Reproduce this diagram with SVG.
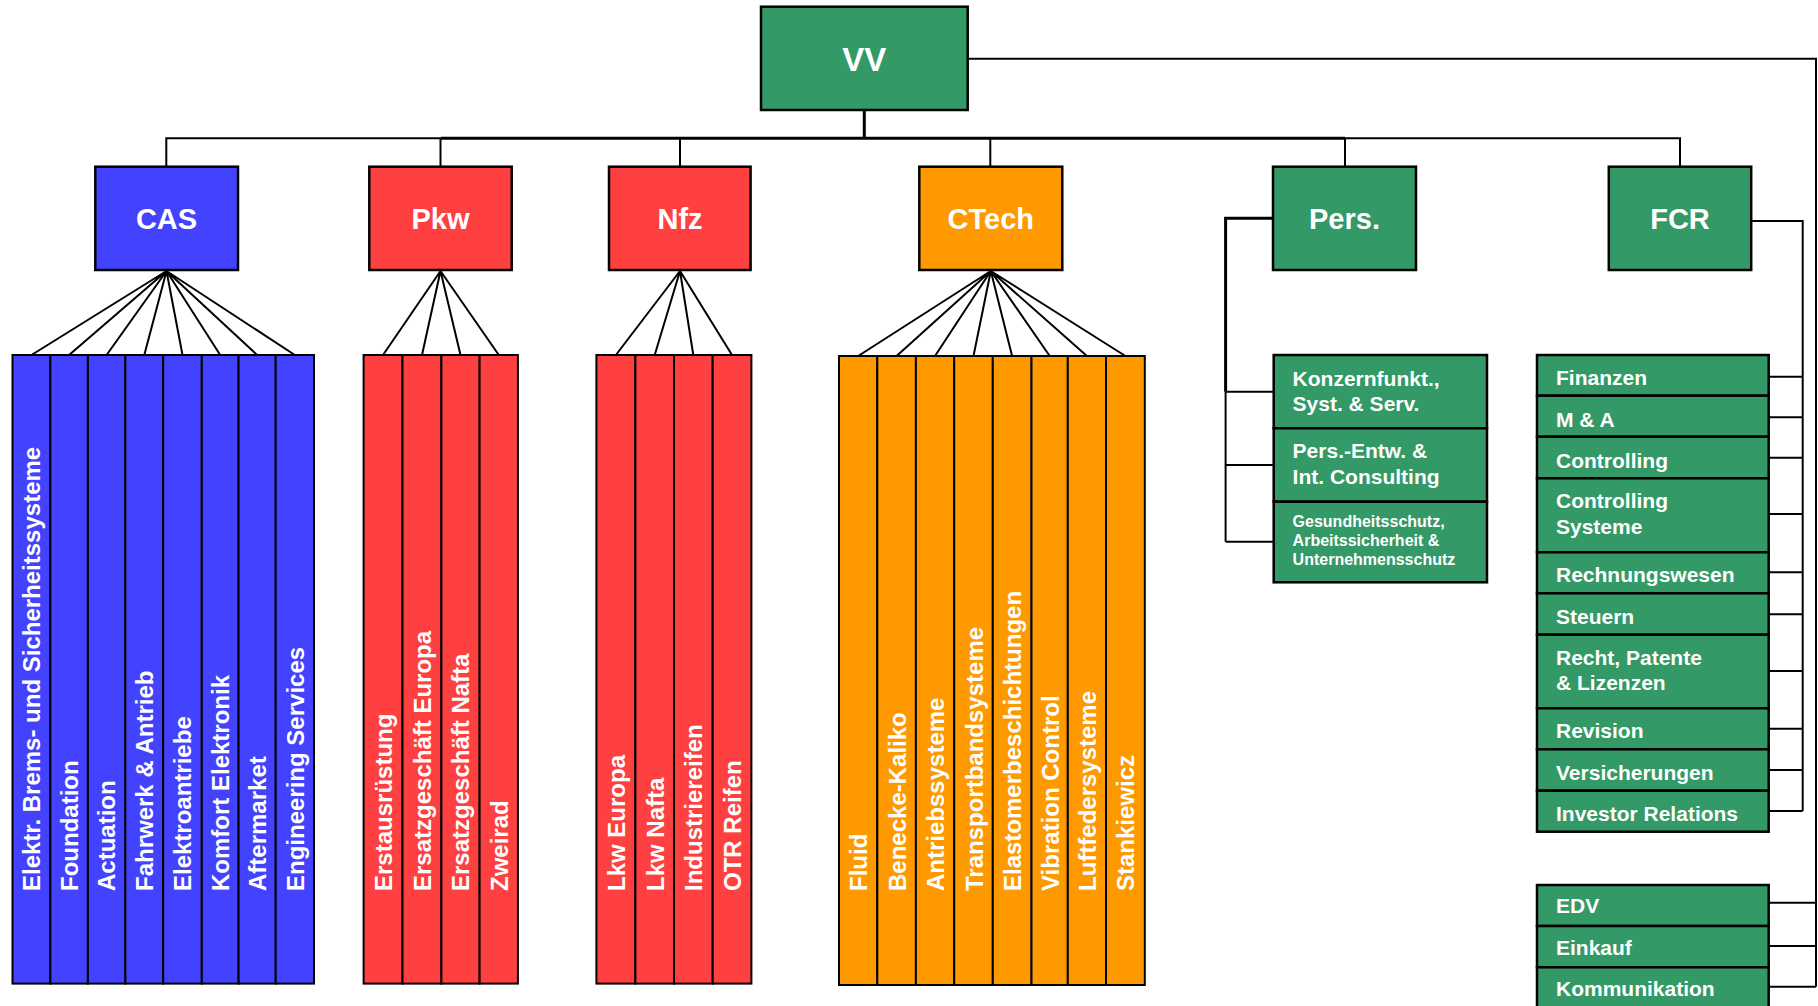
<svg xmlns="http://www.w3.org/2000/svg" width="1818" height="1006" viewBox="0 0 1818 1006">
<style>
  .box { stroke: #000; stroke-width: 2.5; }
  .col { stroke: #000; stroke-width: 2; }
  .g { fill: #339966; }
  .b { fill: #4343FF; }
  .r { fill: #FF4040; }
  .o { fill: #FF9900; }
  text { font-family: "Liberation Sans", Arial, sans-serif; font-weight: bold; fill: #fff; }
  .title { font-size: 29px; text-anchor: middle; }
  .vt { font-size: 24px; }
  .lt { font-size: 21px; }
  .st { font-size: 16px; }
  .conn { fill: none; stroke: #000; stroke-width: 2; }
  .thick { fill: none; stroke: #000; stroke-width: 3; }
</style>
<rect width="1818" height="1006" fill="#fff"/>

<g id="connectors">
  <path class="thick" d="M864.3 110 V138.3"/>
  <path class="conn" d="M166.3 166.7 V138.3 H440.5"/>
  <path class="thick" d="M440.5 138.3 H1345"/>
  <path class="conn" d="M1345 138.3 H1680 V166.7"/>
  <path class="conn" d="M440.5 138.3 V166.7 M680 138.3 V166.7 M990.3 138.3 V166.7 M1345 138.3 V166.7"/>
  <path class="conn" d="M967.7 58.7 H1816 V986.7"/>
  <path class="conn" d="M1768.7 902.7 H1816 M1768.7 946 H1816 M1768.7 986.7 H1816"/>
  <path class="thick" d="M1273 218.3 H1225.6 V391.7"/>
  <path class="conn" d="M1225.6 391.7 V541.7"/>
  <path class="conn" d="M1225.6 391.7 H1273.7 M1225.6 465 H1273.7 M1225.6 541.7 H1273.7"/>
  <path class="conn" d="M1751.2 221 H1802.7 V811"/>
  <path class="conn" d="M1768.7 376.7 H1802.7 M1768.7 417.3 H1802.7 M1768.7 457.7 H1802.7 M1768.7 514 H1802.7 M1768.7 572.3 H1802.7 M1768.7 614.3 H1802.7 M1768.7 671 H1802.7 M1768.7 728.7 H1802.7 M1768.7 770 H1802.7 M1768.7 811 H1802.7"/>
  <path class="conn" d="M166.5 271 L31.5 355 M166.5 271 L69.1 355 M166.5 271 L106.6 355 M166.5 271 L144.3 355 M166.5 271 L182.5 355 M166.5 271 L220.2 355 M166.5 271 L257.1 355 M166.5 271 L294.8 355"/>
  <path class="conn" d="M440.5 271 L383 355 M440.5 271 L422 355 M440.5 271 L460.5 355 M440.5 271 L498.8 355"/>
  <path class="conn" d="M680 271 L615.9 355 M680 271 L654.7 355 M680 271 L693.3 355 M680 271 L732 355"/>
  <path class="conn" d="M990.8 271 L858.2 356 M990.8 271 L896.6 356 M990.8 271 L935 356 M990.8 271 L973.5 356 M990.8 271 L1012.1 356 M990.8 271 L1049.7 356 M990.8 271 L1086.9 356 M990.8 271 L1125.4 356"/>
</g>

<g id="vv">
  <rect class="box g" x="761" y="6.7" width="206.7" height="103.3"/>
  <text class="title" x="864.3" y="71" style="font-size:33px">VV</text>
</g>
<g id="cas">
  <rect class="box b" x="95.3" y="166.7" width="142.7" height="103.3"/>
  <text class="title" x="166.5" y="229">CAS</text>
</g>
<g id="pkw">
  <rect class="box r" x="369.3" y="166.7" width="142.4" height="103.3"/>
  <text class="title" x="440.5" y="229">Pkw</text>
</g>
<g id="nfz">
  <rect class="box r" x="609" y="166.7" width="141.6" height="103.3"/>
  <text class="title" x="680" y="229">Nfz</text>
</g>
<g id="ctech">
  <rect class="box o" x="919.3" y="166.7" width="143" height="103.3"/>
  <text class="title" x="990.8" y="229">CTech</text>
</g>
<g id="pers">
  <rect class="box g" x="1273" y="166.7" width="143" height="103.3"/>
  <text class="title" x="1344.5" y="229">Pers.</text>
</g>
<g id="fcr">
  <rect class="box g" x="1608.8" y="166.7" width="142.4" height="103.3"/>
  <text class="title" x="1680" y="229">FCR</text>
</g>

<g id="cas-units">
  <rect class="col b" x="12.5" y="355" width="37.9" height="628.6"/>
  <rect class="col b" x="50.4" y="355" width="37.5" height="628.6"/>
  <rect class="col b" x="87.9" y="355" width="37.5" height="628.6"/>
  <rect class="col b" x="125.4" y="355" width="37.8" height="628.6"/>
  <rect class="col b" x="163.2" y="355" width="38.6" height="628.6"/>
  <rect class="col b" x="201.8" y="355" width="36.8" height="628.6"/>
  <rect class="col b" x="238.6" y="355" width="37.1" height="628.6"/>
  <rect class="col b" x="275.7" y="355" width="38.3" height="628.6"/>
  <text class="vt" transform="translate(40.3 891) rotate(-90)">Elektr. Brems- und Sicherheitssysteme</text>
  <text class="vt" transform="translate(77.9 891) rotate(-90)">Foundation</text>
  <text class="vt" transform="translate(115.4 891) rotate(-90)">Actuation</text>
  <text class="vt" transform="translate(153.1 891) rotate(-90)">Fahrwerk &amp; Antrieb</text>
  <text class="vt" transform="translate(191.3 891) rotate(-90)">Elektroantriebe</text>
  <text class="vt" transform="translate(229 891) rotate(-90)">Komfort Elektronik</text>
  <text class="vt" transform="translate(265.9 891) rotate(-90)">Aftermarket</text>
  <text class="vt" transform="translate(303.6 891) rotate(-90)">Engineering Services</text>
</g>

<g id="pkw-units">
  <rect class="col r" x="363.6" y="355" width="38.9" height="628.6"/>
  <rect class="col r" x="402.5" y="355" width="38.9" height="628.6"/>
  <rect class="col r" x="441.4" y="355" width="38.2" height="628.6"/>
  <rect class="col r" x="479.6" y="355" width="38.3" height="628.6"/>
  <text class="vt" transform="translate(391.8 891) rotate(-90)">Erstausrüstung</text>
  <text class="vt" transform="translate(430.8 891) rotate(-90)">Ersatzgeschäft Europa</text>
  <text class="vt" transform="translate(469.3 891) rotate(-90)">Ersatzgeschäft Nafta</text>
  <text class="vt" transform="translate(507.6 891) rotate(-90)">Zweirad</text>
</g>

<g id="nfz-units">
  <rect class="col r" x="596.4" y="355" width="39" height="628.6"/>
  <rect class="col r" x="635.4" y="355" width="38.6" height="628.6"/>
  <rect class="col r" x="674" y="355" width="38.7" height="628.6"/>
  <rect class="col r" x="712.7" y="355" width="38.7" height="628.6"/>
  <text class="vt" transform="translate(624.7 891) rotate(-90)">Lkw Europa</text>
  <text class="vt" transform="translate(663.5 891) rotate(-90)">Lkw Nafta</text>
  <text class="vt" transform="translate(702.1 891) rotate(-90)">Industriereifen</text>
  <text class="vt" transform="translate(740.8 891) rotate(-90)">OTR Reifen</text>
</g>

<g id="ctech-units">
  <rect class="col o" x="839" y="356" width="38.3" height="629"/>
  <rect class="col o" x="877.3" y="356" width="38.6" height="629"/>
  <rect class="col o" x="915.9" y="356" width="38.3" height="629"/>
  <rect class="col o" x="954.2" y="356" width="38.6" height="629"/>
  <rect class="col o" x="992.8" y="356" width="38.7" height="629"/>
  <rect class="col o" x="1031.5" y="356" width="36.3" height="629"/>
  <rect class="col o" x="1067.8" y="356" width="38.2" height="629"/>
  <rect class="col o" x="1106" y="356" width="38.8" height="629"/>
  <text class="vt" transform="translate(867.2 891) rotate(-90)">Fluid</text>
  <text class="vt" transform="translate(905.6 891) rotate(-90)">Benecke-Kaliko</text>
  <text class="vt" transform="translate(944 891) rotate(-90)">Antriebssysteme</text>
  <text class="vt" transform="translate(982.5 891) rotate(-90)">Transportbandsysteme</text>
  <text class="vt" transform="translate(1021.1 891) rotate(-90)">Elastomerbeschichtungen</text>
  <text class="vt" transform="translate(1058.7 891) rotate(-90)">Vibration Control</text>
  <text class="vt" transform="translate(1095.9 891) rotate(-90)">Luftfedersysteme</text>
  <text class="vt" transform="translate(1134.4 891) rotate(-90)">Stankiewicz</text>
</g>

<g id="pers-units">
  <rect class="box g" x="1273.7" y="355" width="213.3" height="73.3"/>
  <rect class="box g" x="1273.7" y="428.3" width="213.3" height="73.4"/>
  <rect class="box g" x="1273.7" y="501.7" width="213.3" height="80.6"/>
  <text class="lt" x="1292.6" y="385.7">Konzernfunkt.,</text>
  <text class="lt" x="1292.6" y="411">Syst. &amp; Serv.</text>
  <text class="lt" x="1292.6" y="458.3">Pers.-Entw. &amp;</text>
  <text class="lt" x="1292.6" y="484.3">Int. Consulting</text>
  <text class="st" x="1292.6" y="527.3">Gesundheitsschutz,</text>
  <text class="st" x="1292.6" y="546">Arbeitssicherheit &amp;</text>
  <text class="st" x="1292.6" y="565">Unternehmensschutz</text>
</g>

<g id="fcr-units">
  <rect class="box g" x="1537" y="355" width="231.7" height="40.7"/>
  <rect class="box g" x="1537" y="395.7" width="231.7" height="41"/>
  <rect class="box g" x="1537" y="436.7" width="231.7" height="41.6"/>
  <rect class="box g" x="1537" y="478.3" width="231.7" height="74"/>
  <rect class="box g" x="1537" y="552.3" width="231.7" height="41"/>
  <rect class="box g" x="1537" y="593.3" width="231.7" height="41.4"/>
  <rect class="box g" x="1537" y="634.7" width="231.7" height="73.6"/>
  <rect class="box g" x="1537" y="708.3" width="231.7" height="41"/>
  <rect class="box g" x="1537" y="749.3" width="231.7" height="41.4"/>
  <rect class="box g" x="1537" y="790.7" width="231.7" height="41"/>
  <text class="lt" x="1556" y="385">Finanzen</text>
  <text class="lt" x="1556" y="426.7">M &amp; A</text>
  <text class="lt" x="1556" y="467.7">Controlling</text>
  <text class="lt" x="1556" y="508.3">Controlling</text>
  <text class="lt" x="1556" y="534">Systeme</text>
  <text class="lt" x="1556" y="582.3">Rechnungswesen</text>
  <text class="lt" x="1556" y="624">Steuern</text>
  <text class="lt" x="1556" y="665">Recht, Patente</text>
  <text class="lt" x="1556" y="690">&amp; Lizenzen</text>
  <text class="lt" x="1556" y="738.3">Revision</text>
  <text class="lt" x="1556" y="780">Versicherungen</text>
  <text class="lt" x="1556" y="820.7">Investor Relations</text>
</g>

<g id="vv-units">
  <rect class="box g" x="1537" y="885" width="231.7" height="41"/>
  <rect class="box g" x="1537" y="926" width="231.7" height="41.3"/>
  <rect class="box g" x="1537" y="967.3" width="231.7" height="42"/>
  <text class="lt" x="1556" y="912.7">EDV</text>
  <text class="lt" x="1556" y="955">Einkauf</text>
  <text class="lt" x="1556" y="996">Kommunikation</text>
</g>
</svg>
